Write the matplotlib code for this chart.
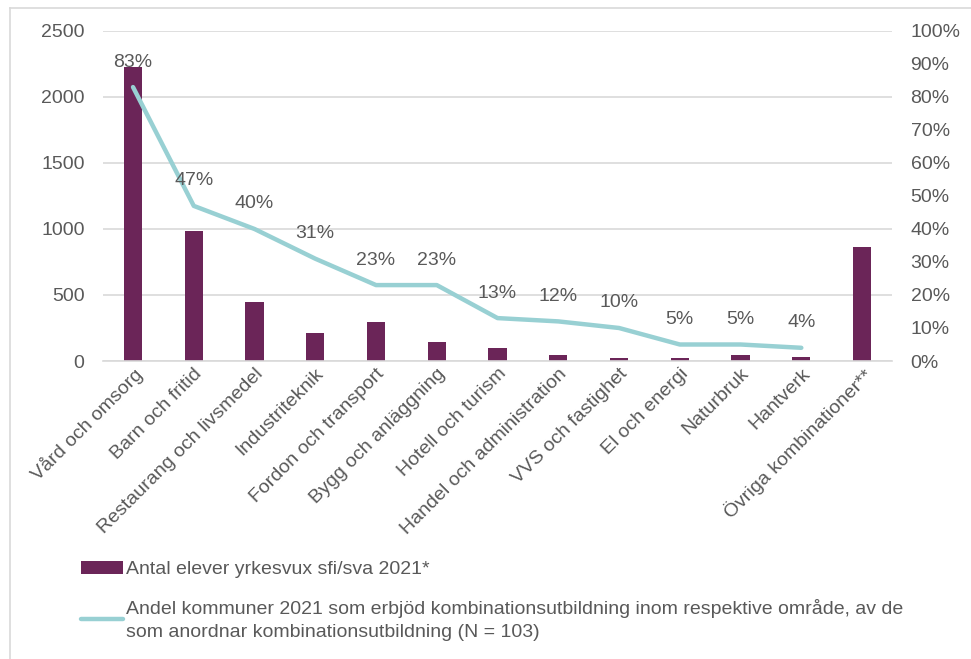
import matplotlib
matplotlib.use("Agg")
import matplotlib.pyplot as plt
import numpy as np
from matplotlib.lines import Line2D
from matplotlib.patches import Patch

plt.rcParams['font.family'] = ['Liberation Sans', 'DejaVu Sans']

categories = ["Vård och omsorg", "Barn och fritid", "Restaurang och livsmedel",
              "Industriteknik", "Fordon och transport", "Bygg och anläggning",
              "Hotell och turism", "Handel och administration", "VVS och fastighet",
              "El och energi", "Naturbruk", "Hantverk", "Övriga kombinationer**"]
students = [2225, 985, 447, 212, 295, 144, 98, 45, 20, 20, 45, 28, 864]
share = [0.83, 0.47, 0.40, 0.31, 0.23, 0.23, 0.13, 0.12, 0.10, 0.05, 0.05, 0.04, np.nan]
share_labels = ["83%", "47%", "40%", "31%", "23%", "23%", "13%", "12%", "10%", "5%", "5%", "4%", ""]
left_ticks = [0, 500, 1000, 1500, 2000, 2500]
right_ticks = [0, 0.1, 0.2, 0.3, 0.4, 0.5, 0.6, 0.7, 0.8, 0.9, 1.0]

label_bar = "Antal elever yrkesvux sfi/sva 2021*"
label_line = ("Andel kommuner 2021 som erbjöd kombinationsutbildning inom respektive område, av de\n"
              "som anordnar kombinationsutbildning (N = 103)")

bar_color = "#6b2558"
line_color = "#98d0d3"
text_color = "#595959"
grid_color = "#d9d9d9"
fs = 14

fig = plt.figure(figsize=(9.71, 6.59), dpi=100)
ax = fig.add_axes([0.1057, 0.4522, 0.8134, 0.5008])
x = np.arange(len(categories))
ax.bar(x, students, width=0.3, color=bar_color, zorder=2)
ax.set_xlim(-0.5, len(categories) - 0.5)
ax.set_ylim(0, 2500)
ax.set_yticks(left_ticks)
ax.set_yticklabels([str(t) for t in left_ticks])
ax.yaxis.grid(True, color=grid_color, linewidth=1.2, zorder=0)
ax.set_axisbelow(True)
for s in ["top", "right", "left"]:
    ax.spines[s].set_visible(False)
ax.spines["bottom"].set_color(grid_color)
ax.spines["bottom"].set_linewidth(1.2)
ax.tick_params(axis="y", length=0, pad=13, labelsize=fs, labelcolor=text_color)
ax.tick_params(axis="x", length=0, pad=3, labelsize=fs, labelcolor=text_color)
ax.set_xticks(x)
ax.set_xticklabels(categories, rotation=45, ha="right", rotation_mode="anchor")

ax2 = ax.twinx()
ax2.plot(x, share, color=line_color, linewidth=3.2, solid_capstyle="round", zorder=3)
ax2.set_ylim(0, 1.0)
ax2.set_yticks(right_ticks)
ax2.set_yticklabels([f"{int(round(t*100))}%" for t in right_ticks])
for s in ["top", "right", "left", "bottom"]:
    ax2.spines[s].set_visible(False)
ax2.tick_params(axis="y", length=0, pad=13, labelsize=fs, labelcolor=text_color)
for xi, v, lab in zip(x, share, share_labels):
    if lab:
        ax2.annotate(lab, (xi, v), xytext=(0, 18), textcoords="offset points",
                     ha="center", va="center", fontsize=fs, color=text_color)

handles = [Patch(facecolor=bar_color, edgecolor="none"),
           Line2D([0], [0], color=line_color, linewidth=3.2, solid_capstyle="round")]
leg = fig.legend(handles, [label_bar, label_line], loc="upper left",
                 bbox_to_anchor=(0.075, 0.161), frameon=False, fontsize=fs,
                 labelcolor=text_color, handlelength=2.16, handletextpad=0.2,
                 labelspacing=1.05, borderaxespad=0)
for t in leg.get_texts():
    t.set_linespacing(1.45)

# outer frame
fig.add_artist(Line2D([10/971, 10/971], [0, 1 - 8/659], transform=fig.transFigure,
                      color="#d9d9d9", linewidth=1.2))
fig.add_artist(Line2D([10/971, 1], [1 - 8/659, 1 - 8/659], transform=fig.transFigure,
                      color="#d9d9d9", linewidth=1.2))

fig.savefig("out.png", dpi=100)
